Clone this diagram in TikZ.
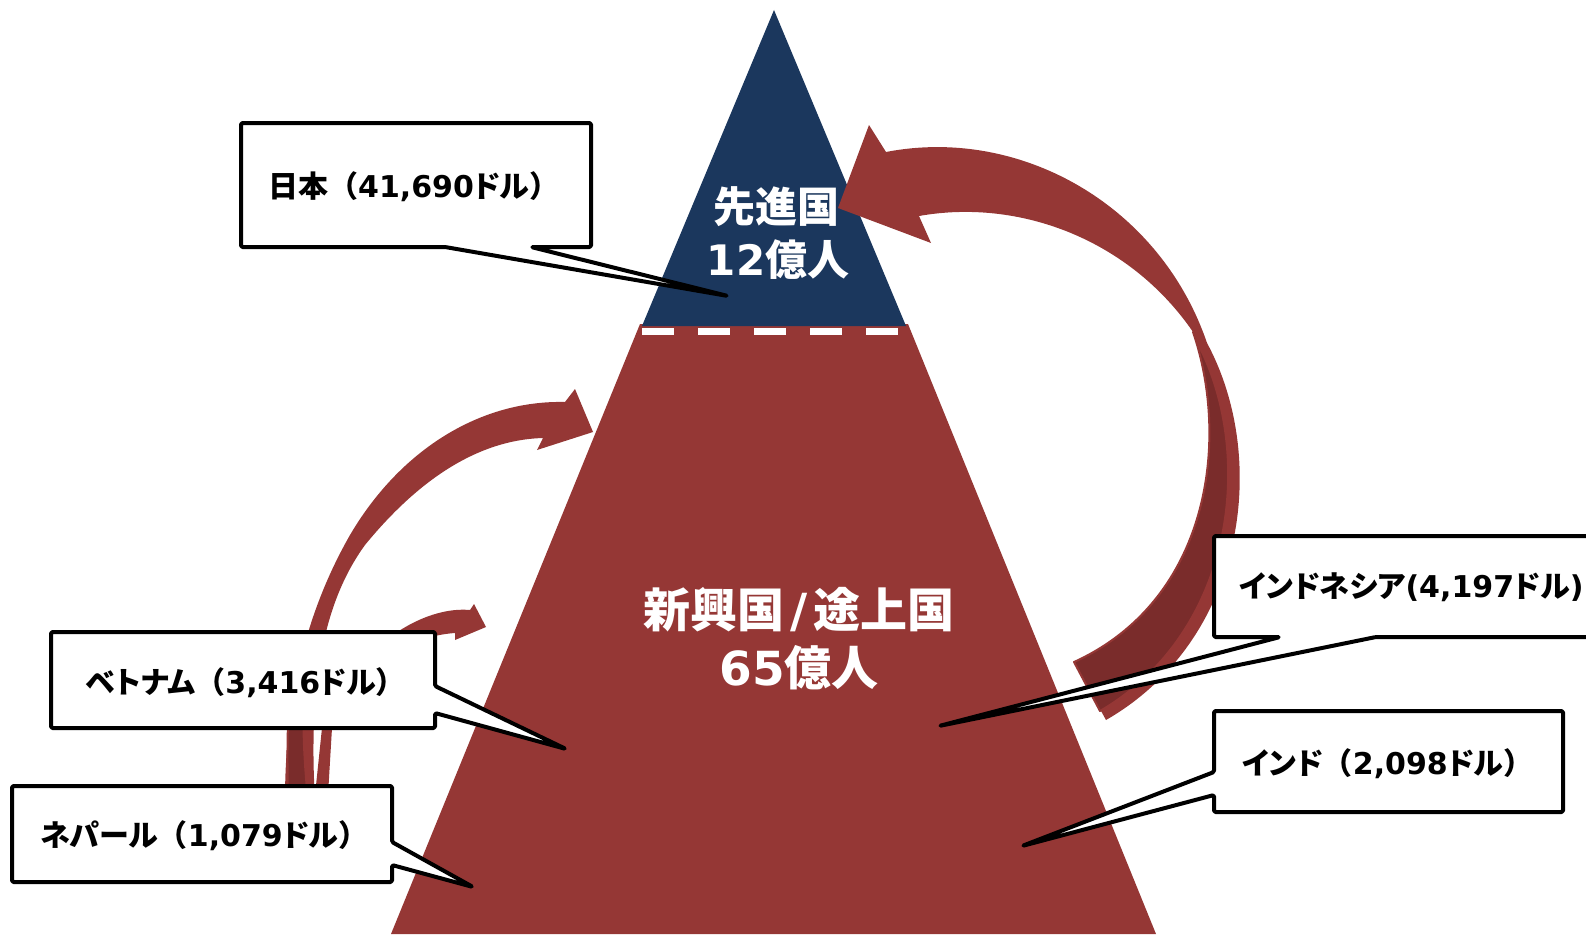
\documentclass[tikz,border=0pt]{standalone}
\usepackage{fontspec}
\newfontfamily\jp{Noto Sans CJK JP}
\newfontfamily\jpp{Noto Sans CJK JP}[RawFeature=+palt]
\newfontfamily\dv{DejaVu Sans}
\definecolor{tri}{HTML}{953735}
\definecolor{navy}{HTML}{1B375D}
\definecolor{dark}{HTML}{7A2C2B}
\newcommand{\K}[1]{{\jpp #1}}
\newcommand{\D}[1]{{\dv #1}}
\tikzset{
  callout/.style={draw=black, line width=4pt, fill=white, line join=round, rounded corners=1.5pt},
  lbl/.style={font=\jp\bfseries\fontsize{30}{34}\selectfont, anchor=west, inner sep=0pt, text=black},
  big/.style={font=\jp\bfseries\fontsize{42}{50}\selectfont, text=white, inner sep=0pt},
  bigr/.style={font=\jp\bfseries\fontsize{47}{52}\selectfont, text=white, inner sep=0pt},
  rim/.style={draw=tri, line width=2pt, fill=dark, line join=round}
}
\begin{document}
\begin{tikzpicture}[x=1pt,y=-1pt]
\useasboundingbox (0,0) rectangle (1586,934);
% pyramid
\fill[tri] (640,324) -- (908,324) -- (1156,934) -- (391,934) -- cycle;
\fill[navy] (774,10) -- (906,326) -- (642,326) -- cycle;
\draw[white, line width=7pt, dash pattern=on 32pt off 24pt] (642,331) -- (905,331);
\node[big] (adv1) at (776,207) {先進国};
\node[big] (adv2) at (778,260) {\D{12}億人};
\node[bigr] (dev1) at (799,610) {新興国\hspace{6pt}\D{/}\hspace{6pt}途上国};
\node[bigr] (dev2) at (799,668) {\D{65}億人};
% right curved arrow
\fill[tri] (838,208) -- (869,125) -- (886,152)
  .. controls (1020,126) and (1160,205) .. (1207,343)
  .. controls (1270,460) and (1245,640) .. (1106,720)
  -- (1074,662)
  .. controls (1210,600) and (1230,440) .. (1193,332)
  .. controls (1130,240) and (1020,198) .. (919,216)
  -- (931,243) -- cycle;
\filldraw[rim] (1193,332)
  .. controls (1230,440) and (1210,600) .. (1074,662)
  -- (1100,711)
  .. controls (1232,634) and (1255,462) .. (1201,350)
  -- cycle;
% left big arrow
\fill[tri] (593,432) -- (575,389) -- (565,402)
  .. controls (480,400) and (400,450) .. (350,535)
  .. controls (310,605) and (285,690) .. (285,800)
  -- (315,800)
  .. controls (308,680) and (325,600) .. (365,545)
  .. controls (410,490) and (470,440) .. (543,438)
  -- (537,450) -- cycle;
\filldraw[rim] (292,680) .. controls (287,710) and (287,750) .. (288,800) -- (308,800) .. controls (303,750) and (302,710) .. (306,680) -- cycle;
% left small arrow
\fill[tri] (486,627) -- (474,604) -- (470,610)
  .. controls (415,605) and (345,660) .. (322,728)
  -- (315,795) -- (328,795) -- (332,728)
  .. controls (355,665) and (410,636) .. (455,633)
  -- (455,640) -- cycle;
% callouts
\draw[callout] (241,123) -- (591,123) -- (591,247) -- (531,247) -- (728,296) -- (445,247) -- (241,247) -- cycle;
\node[lbl] (jp) at (268,187) {日本（\D{41,690}\K{ドル}）};
\draw[callout] (51,632) -- (435,632) -- (435,686) -- (566,749) -- (435,713) -- (435,728) -- (51,728) -- cycle;
\node[lbl] (vn) at (86,683) {\K{ベトナム}（\D{3,416}\K{ドル}）};
\draw[callout] (12,786) -- (392,786) -- (392,842) -- (473,887) -- (392,865) -- (392,882) -- (12,882) -- cycle;
\node[lbl] (np) at (40,836) {\K{ネパール}（\D{1,079}\K{ドル}）};
\draw[callout] (1214,536) -- (1600,536) -- (1600,637) -- (1376,637) -- (939,726) -- (1280,637) -- (1214,637) -- cycle;
\node[lbl] (id) at (1239,587) {\K{インドネシア}\D{(4,197}\K{ドル}\D{)}};
\draw[callout] (1214,711) -- (1563,711) -- (1563,812) -- (1214,812) -- (1214,795) -- (1022,846) -- (1214,772) -- cycle;
\node[lbl] (in) at (1242,764) {\K{インド}（\D{2,098}\K{ドル}）};
\end{tikzpicture}
\end{document}
